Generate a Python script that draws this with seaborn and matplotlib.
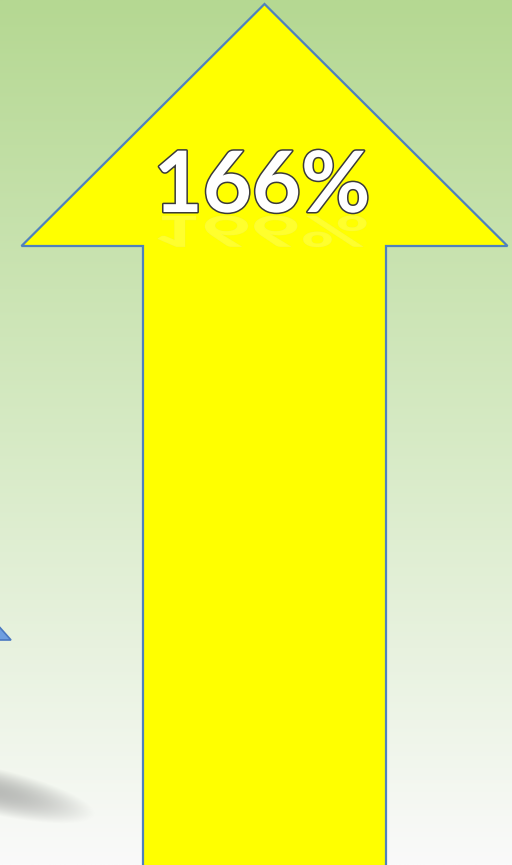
import numpy as np
import matplotlib
matplotlib.use("Agg")
import matplotlib.pyplot as plt
import matplotlib.patheffects as pe
from matplotlib.textpath import TextPath
from matplotlib.font_manager import FontProperties
from matplotlib.patches import PathPatch, Polygon
import matplotlib.transforms as mtransforms
import seaborn as sns

# ---- data ----
labels = ["166%"]
values = [166]

sns.set_theme(style="white")
plt.rcParams['font.family'] = ['Lato', 'DejaVu Sans']

W, H = 512, 865
fig = plt.figure(figsize=(W / 100, H / 100), dpi=100)
ax = fig.add_axes([0, 0, 1, 1])

value = values[0]
ymax = value * H / (H - 4)          # tip sits 4 px below top
px_y = ymax / H                     # data units per pixel (y)
ax.set_xlim(0, W)
ax.set_ylim(0, ymax)
ax.axis("off")

# background gradient (light green top -> white bottom)
top = np.array([181, 216, 146]) / 255
mid = np.array([214, 234, 196]) / 255
bot = np.array([250, 250, 250]) / 255
t = np.linspace(0, 1, 400)[:, None]
grad = np.where(t < 0.5, top + (mid - top) * (t / 0.5), mid + (bot - mid) * ((t - 0.5) / 0.5))
img = grad[:, None, :].repeat(2, axis=1)
ax.imshow(img, extent=[0, W, 0, ymax], aspect="auto", zorder=0, origin="upper")

# soft slanted shadow bottom-left
yy, xx = np.mgrid[0:120, 0:200].astype(float)
cx, cy = 90, 55          # index -> x = -100 + 90 = -10 px
yrot = yy - cy - (xx - cx) * 0.22
d = ((xx - cx) / 105.0) ** 2 + (yrot / 24.0) ** 2
alpha = np.clip(1.0 - d, 0, 1) ** 1.2 * 0.5
shadow = np.zeros((120, 200, 4))
shadow[..., :3] = 0.5
shadow[..., 3] = alpha
ax.imshow(shadow, extent=[-100, 100, (H - 855) * px_y, (H - 735) * px_y],
          aspect="auto", zorder=1, origin="upper")

# partial blue triangle at left edge
ax.add_patch(Polygon([[-20, (H - 605) * px_y], [11, (H - 640) * px_y], [-20, (H - 640) * px_y]],
                     closed=True, facecolor="#6f9fe0", edgecolor="#4a78c0", lw=1.2, zorder=2))

# the arrow (value -> height)
cxa = 264.5
shaft_w = 243
head_w = 486
head_len = 242 * px_y
ax.arrow(cxa, -10 * px_y, 0, value + 10 * px_y, width=shaft_w, head_width=head_w,
         head_length=head_len, length_includes_head=True,
         facecolor="#ffff00", edgecolor="#4f81bd", linewidth=1.6, zorder=3)

# label text
fp = FontProperties(family="Lato", weight="bold", size=61)
ax.text(262, (H - 212) * px_y, labels[0], ha="center", va="baseline",
        fontproperties=fp, color="white", zorder=5,
        path_effects=[pe.withStroke(linewidth=2.2, foreground="#3a3a3a")])

# faint reflection
tp = TextPath((0, 0), labels[0], size=85, prop=fp)
bb = tp.get_extents()
tr = (mtransforms.Affine2D()
      .translate(-(bb.x0 + bb.x1) / 2, 0)
      .scale(1, -0.5 * px_y)
      .translate(262, (H - 216) * px_y))
ax.add_patch(PathPatch(tr.transform_path(tp), facecolor="white", edgecolor="#e0e0a0",
                       lw=0.5, alpha=0.18, zorder=4))

fig.savefig("out.png", dpi=100)
